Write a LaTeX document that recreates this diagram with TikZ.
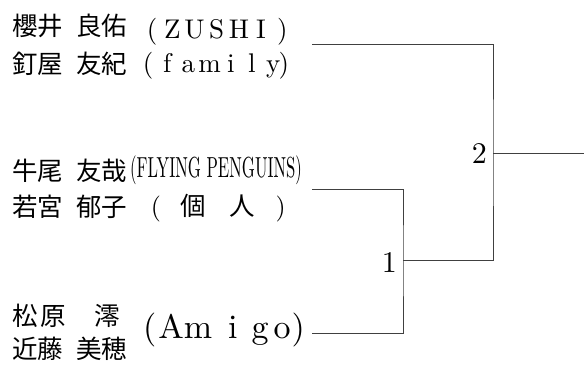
\documentclass[tikz,border=0pt]{standalone}
\usepackage{fontspec}
\newfontfamily\jp{Noto Sans CJK JP}
\newfontfamily\lmten{lmroman10-regular}[Extension=.otf]
\makeatletter
% letters set on a fixed pitch
\newcommand\spread[2]{\@tfor\sp@ch:=#2\do{\makebox[#1]{\sp@ch}}}
\makeatother

\begin{document}
\begin{tikzpicture}[x=1pt,y=-1pt,
    player/.style={anchor=base west,inner sep=0pt,font=\jp\fontsize{25.5}{25.5}\selectfont},
    team/.style={anchor=base west,inner sep=0pt,font=\lmten\fontsize{27}{27}\selectfont},
    round/.style={anchor=base east,inner sep=0pt,font=\lmten\fontsize{30}{30}\selectfont},
    wire/.style={line width=1pt,black!75}]
            \useasboundingbox (0,0) rectangle (584,365);
            % players
            \node[player] (p1) at (12,35.3) {櫻井\hspace{13pt}良佑};
            \node[player] (p2) at (12,73.3) {釘屋\hspace{13pt}友紀};
            \node[player] (p3) at (12,180.3) {牛尾\hspace{13pt}友哉};
            \node[player] (p4) at (12,216.3) {若宮\hspace{13pt}郁子};
            \node[player] (p5) at (12,325.3) {松\hspace{3pt}原\hspace{28pt}澪};
            \node[player] (p6) at (12,358.3) {近藤\hspace{13pt}美穂};
            % teams
            \node[team] (t1) at (146.6,38) {(\hspace{3.9pt}\spread{22.2pt}{ZUSHI}\hspace{5pt})};
            \node[team] (t2) at (142.6,72) {(\hspace{3.3pt}\spread{21.2pt}{family}\hspace{-5.2pt})};
            \node[team,font=\lmten\fontsize{29}{29}\selectfont] (t3) at (130,177) {\scalebox{0.577}[1]{(FLYING PENGUINS)}};
            \node[team,font=\lmten\fontsize{26}{26}\selectfont] (t4) at (150.7,215) {(\hspace{19.2pt}{\jp\fontsize{25.5}{25.5}\selectfont 個\hspace{23.5pt}人}\hspace{20.9pt})};
            \node[team,font=\lmten\fontsize{34}{34}\selectfont] (t5) at (143,338) {(\hspace{2pt}Am\hspace{16pt}i\hspace{14pt}g\hspace{5pt}o\hspace{1pt})};
            % bracket
            \coordinate (a1) at (312,44);
            \coordinate (a2) at (312,189);
            \coordinate (a3) at (312,333);
            \coordinate (j1) at (403,260);
            \coordinate (j2) at (493,153);
            \coordinate (w) at (584,153);
            \draw[wire] (a2) -| (j1) |- (a3);
            \draw[wire] (a1) -| (j2) |- (j1);
            \draw[wire] (j2) -- (w);
            \node[round] (r1) at (397,272) {1};
            \node[round] (r2) at (487,163) {2};
        \end{tikzpicture}
\end{document}
